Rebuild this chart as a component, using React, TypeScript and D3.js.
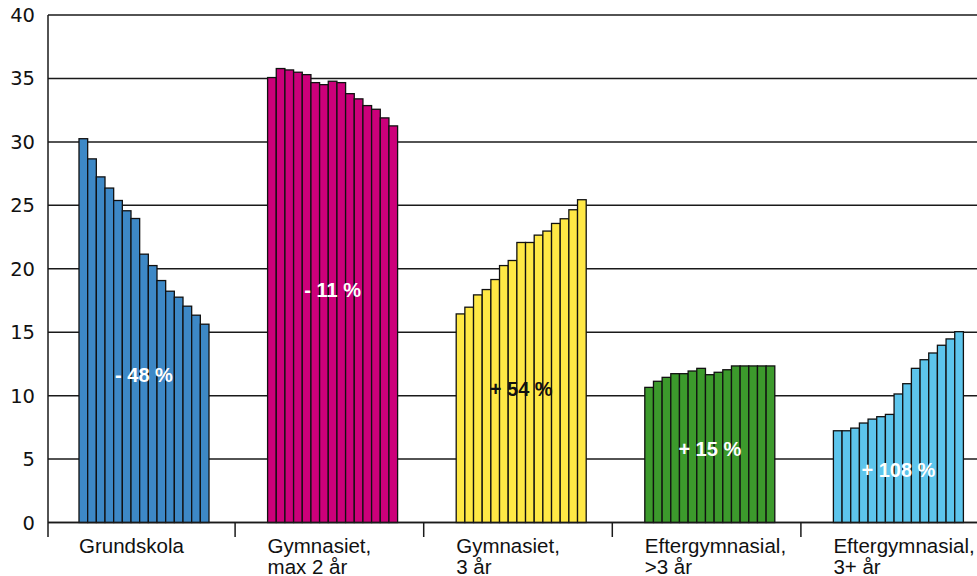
import { useEffect, useRef } from "react";
import * as d3 from "d3";

const categories = [
  ["Grundskola"],
  ["Gymnasiet,", "max 2 år"],
  ["Gymnasiet,", "3 år"],
  ["Eftergymnasial,", ">3 år"],
  ["Eftergymnasial,", "3+ år"],
];

const grundskola = [30.25, 28.66, 27.24, 26.36, 25.38, 24.57, 23.96, 21.15, 20.25, 19.07, 18.23, 17.76, 17.05, 16.34, 15.63];
const gymnasietMax2 = [35.07, 35.78, 35.67, 35.49, 35.3, 34.67, 34.51, 34.78, 34.67, 33.8, 33.39, 32.86, 32.57, 31.89, 31.26];
const gymnasiet3 = [16.44, 16.97, 17.94, 18.36, 19.15, 20.25, 20.65, 22.07, 22.07, 22.65, 22.97, 23.57, 23.94, 24.65, 25.44];
const efterGt3 = [10.65, 11.13, 11.44, 11.73, 11.73, 11.94, 12.15, 11.65, 11.84, 12.04, 12.34, 12.34, 12.34, 12.34, 12.34];
const efter3plus = [7.23, 7.23, 7.44, 7.84, 8.15, 8.34, 8.52, 10.13, 10.94, 12.15, 12.83, 13.36, 13.97, 14.47, 15.04];

const series = [grundskola, gymnasietMax2, gymnasiet3, efterGt3, efter3plus];
const changeLabels = ["- 48 %", "- 11 %", "+ 54 %", "+ 15 %", "+ 108 %"];
const changeLabelY = [11.6, 18.3, 10.5, 5.8, 4.1];
const colors = ["#3D88C6", "#CC007A", "#FFE845", "#3C9A2C", "#5DC5EC"];
const labelColors = ["#FFFFFF", "#FFFFFF", "#111111", "#FFFFFF", "#FFFFFF"];
const yTicks = [0, 5, 10, 15, 20, 25, 30, 35, 40];

export default function App() {
  const svgRef = useRef<SVGSVGElement>(null);

  useEffect(() => {
    if (!svgRef.current) return;
    const svg = d3.select(svgRef.current);
    const width = 977;
    const height = 576;
    const font = "'Liberation Sans', Arial, sans-serif";

    svg.selectAll("*").remove();
    svg.attr("width", width).attr("height", height);

    const x0 = 48;
    const yScale = d3.scaleLinear().domain([0, 40]).range([522.5, 15]);

    const groupScale = d3
      .scaleBand<number>()
      .domain(d3.range(categories.length))
      .range([x0, x0 + 188.6 * 5]);

    const barScale = d3
      .scaleBand<number>()
      .domain(d3.range(15))
      .range([0, 130]);

    const groupOffset = 31;

    // Grid lines
    svg
      .append("g")
      .selectAll("line")
      .data(yTicks)
      .enter()
      .append("line")
      .attr("x1", x0)
      .attr("x2", width)
      .attr("y1", (d) => yScale(d))
      .attr("y2", (d) => yScale(d))
      .attr("stroke", "#1a1a1a")
      .attr("stroke-width", 1.5);

    // Y tick labels
    svg
      .append("g")
      .selectAll("text")
      .data(yTicks)
      .enter()
      .append("text")
      .attr("x", 35)
      .attr("y", (d) => yScale(d))
      .attr("dy", "0.36em")
      .attr("text-anchor", "end")
      .attr("font-family", "'DejaVu Sans', sans-serif")
      .attr("font-size", "19.5px")
      .attr("fill", "#111")
      .text((d) => d);

    // Bars
    series.forEach((values, gi) => {
      const gx = groupScale(gi)! + groupOffset;
      svg
        .append("g")
        .selectAll("rect")
        .data(values)
        .enter()
        .append("rect")
        .attr("x", (_, i) => gx + barScale(i)!)
        .attr("y", (d) => yScale(d))
        .attr("width", barScale.bandwidth())
        .attr("height", (d) => yScale(0) - yScale(d))
        .attr("fill", colors[gi])
        .attr("stroke", "#111")
        .attr("stroke-width", 1.3);

      svg
        .append("text")
        .attr("x", gx + 65)
        .attr("y", yScale(changeLabelY[gi]))
        .attr("dy", "0.35em")
        .attr("text-anchor", "middle")
        .attr("font-family", font)
        .attr("font-size", "20px")
        .attr("font-weight", "bold")
        .attr("fill", labelColors[gi])
        .text(changeLabels[gi]);

      const label = svg
        .append("text")
        .attr("x", gx)
        .attr("y", 553)
        .attr("font-family", font)
        .attr("font-size", "20.5px")
        .attr("fill", "#111");
      categories[gi].forEach((line, li) => {
        label
          .append("tspan")
          .attr("x", gx)
          .attr("dy", li === 0 ? 0 : 21)
          .text(line);
      });
    });

    // Axes
    svg
      .append("line")
      .attr("x1", x0)
      .attr("x2", x0)
      .attr("y1", yScale(40))
      .attr("y2", 537)
      .attr("stroke", "#1a1a1a")
      .attr("stroke-width", 1.5);

    svg
      .append("line")
      .attr("x1", x0)
      .attr("x2", width)
      .attr("y1", yScale(0))
      .attr("y2", yScale(0))
      .attr("stroke", "#1a1a1a")
      .attr("stroke-width", 1.5);

    svg
      .append("g")
      .selectAll("line")
      .data(d3.range(1, categories.length))
      .enter()
      .append("line")
      .attr("x1", (d) => groupScale(d)! - 1.5)
      .attr("x2", (d) => groupScale(d)! - 1.5)
      .attr("y1", yScale(0))
      .attr("y2", 537)
      .attr("stroke", "#1a1a1a")
      .attr("stroke-width", 1.5);
  }, []);

  return (
    <div style={{ position: "absolute", left: 0, top: 0 }}>
      <svg ref={svgRef}></svg>
    </div>
  );
}
